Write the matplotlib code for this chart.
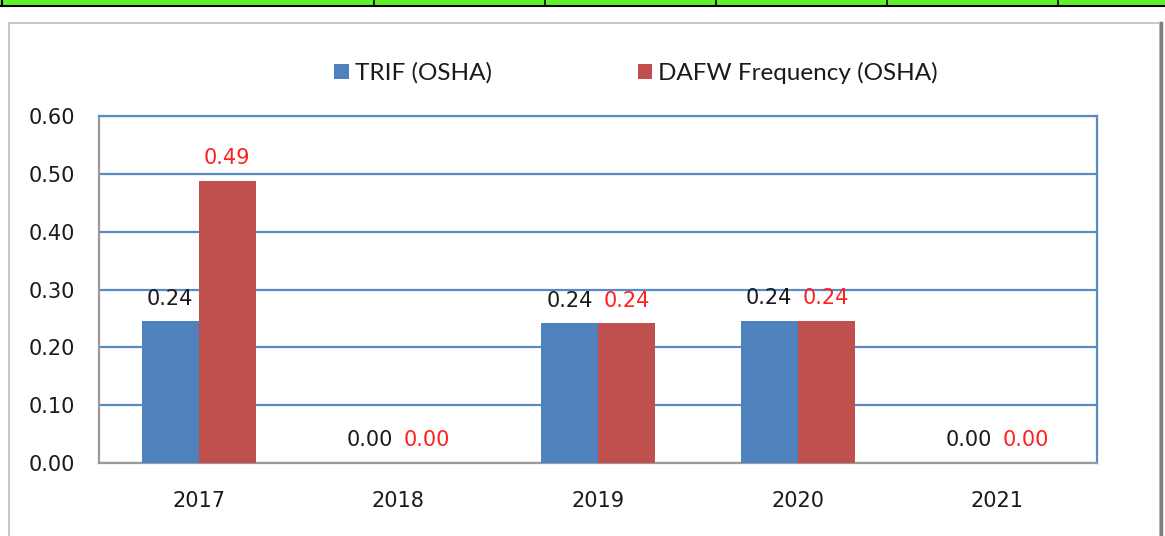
import numpy as np
import matplotlib
matplotlib.use("Agg")
import matplotlib.pyplot as plt
from matplotlib.patches import Rectangle
from matplotlib.lines import Line2D

years = ["2017", "2018", "2019", "2020", "2021"]
trif = [0.245, 0.0, 0.242, 0.246, 0.0]
dafw = [0.488, 0.0, 0.242, 0.246, 0.0]
trif_labels = ["0.24", "0.00", "0.24", "0.24", "0.00"]
dafw_labels = ["0.49", "0.00", "0.24", "0.24", "0.00"]
yticks = [0.0, 0.1, 0.2, 0.3, 0.4, 0.5, 0.6]

BLUE = "#4F81BD"
RED = "#C0504D"
GRID = "#5A8AC6"

W, H = 1165, 536
fig = plt.figure(figsize=(W / 100, H / 100), dpi=100)
fig.patch.set_facecolor("white")

def fx(px):
    return px / W

def fy(py):
    return 1 - py / H

# green table strip at top
fig.patches.append(Rectangle((0, fy(5)), 1, 5 / H, transform=fig.transFigure,
                             facecolor="#5CF52A", edgecolor="none", zorder=0))
fig.lines.append(Line2D([0, 1], [fy(5.5), fy(5.5)], transform=fig.transFigure,
                        color="black", lw=1.5))
for xd in [374, 545, 716, 887, 1058]:
    fig.lines.append(Line2D([fx(xd), fx(xd)], [1, fy(5)], transform=fig.transFigure,
                            color="black", lw=1.2))
fig.lines.append(Line2D([fx(1.5), fx(1.5)], [1, fy(5)], transform=fig.transFigure,
                        color="black", lw=1.5))

# chart frame
fig.lines.append(Line2D([fx(9), fx(9), fx(1160), fx(1160)], [0, fy(23), fy(23), 0],
                        transform=fig.transFigure, color="#BDBDBD", lw=1.2))
fig.lines.append(Line2D([fx(1161), fx(1161)], [0, fy(23)], transform=fig.transFigure,
                        color="#7F7F7F", lw=2.5))

ax = fig.add_axes([fx(99), fy(463), fx(1097 - 99), (463 - 116) / H])
x = np.arange(len(years))
bw = 0.286
ax.bar(x - bw / 2, trif, bw, color=BLUE, zorder=3, label="TRIF (OSHA)")
ax.bar(x + bw / 2, dafw, bw, color=RED, zorder=3, label="DAFW Frequency (OSHA)")

for xi, v, t in zip(x, trif, trif_labels):
    ax.annotate(t, (xi - bw / 2, v), xytext=(0, 9), textcoords="offset points",
                ha="center", va="bottom", fontsize=15, color="#1a1a1a",
                family="DejaVu Sans")
for xi, v, t in zip(x, dafw, dafw_labels):
    ax.annotate(t, (xi + bw / 2, v), xytext=(0, 9), textcoords="offset points",
                ha="center", va="bottom", fontsize=15, color="#FF2020",
                family="DejaVu Sans")

ax.set_xlim(-0.5, len(years) - 0.5)
ax.set_ylim(0, 0.6)
ax.set_yticks(yticks)
ax.set_yticklabels([f"{v:.2f}" for v in yticks], fontsize=15, color="#1a1a1a")
ax.set_xticks(x)
ax.set_xticklabels(years, fontsize=15, color="#1a1a1a")
ax.tick_params(axis="both", length=0)
ax.tick_params(axis="y", pad=17)
ax.tick_params(axis="x", pad=20)
ax.yaxis.grid(True, color=GRID, lw=1.6, zorder=1)
ax.set_axisbelow(True)
for s in ["top", "right"]:
    ax.spines[s].set_color(GRID)
    ax.spines[s].set_linewidth(1.6)
for s in ["left", "bottom"]:
    ax.spines[s].set_color("#9A9A9A")
    ax.spines[s].set_linewidth(1.6)

leg = fig.legend(loc="center", bbox_to_anchor=(fx(636), fy(73)), ncol=2,
                 frameon=False, prop={"family": "Lato", "size": 17.5},
                 handlelength=0.6, handleheight=0.6, handletextpad=0.25,
                 columnspacing=6.0)
for t in leg.get_texts():
    t.set_color("#1a1a1a")

fig.savefig("out.png", dpi=100, facecolor="white")
